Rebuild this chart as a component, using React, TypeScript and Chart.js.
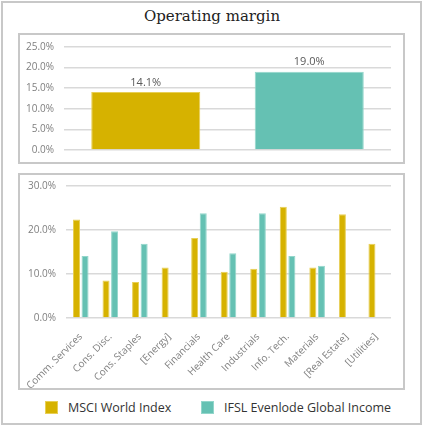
import { useEffect, useRef } from "react";
import Chart from "chart.js/auto";
import type { ChartConfiguration, Plugin, Scale } from "chart.js";

// ---------------------------------------------------------------------------
// data
// ---------------------------------------------------------------------------
const SERIES_NAMES = ["MSCI World Index", "IFSL Evenlode Global Income"];
const SERIES_COLORS = ["#D6B200", "#65C1B3"];
const SERIES_EDGES = ["#E8CF55", "#93D6CB"];

// top panel: overall operating margin
const TOTAL_MARGIN = [14.1, 19.0];
const TOP_TICKS = [0, 5, 10, 15, 20, 25];

// bottom panel: by sector
const SECTORS = [
  "Comm. Services",
  "Cons. Disc.",
  "Cons. Staples",
  "[Energy]",
  "Financials",
  "Health Care",
  "Industrials",
  "Info. Tech.",
  "Materials",
  "[Real Estate]",
  "[Utilities]",
];
const MSCI_SECTOR = [22.4, 8.5, 8.2, 11.5, 18.2, 10.5, 11.2, 25.3, 11.5, 23.6, 16.9];
const FUND_SECTOR = [14.1, 19.7, 16.9, null, 23.8, 14.7, 23.8, 14.1, 11.9, null, null];
const BOTTOM_TICKS = [0, 10, 20, 30];

const TICK_FONT = { family: "'Open Sans', sans-serif", size: 10 };
const TICK_COLOR = "#7F7F7F";
const GRID_COLOR = "#D9D9D9";

const pct = (v: number | string) => `${Number(v).toFixed(1)}%`;

// fixed y axis width, and no extra room for the end labels
const fixY = (width: number) => (scale: Scale) => {
  scale.width = width;
  scale.paddingTop = 0;
  scale.paddingBottom = 0;
};

// value labels above the top bars
const valueLabels: Plugin<"bar"> = {
  id: "valueLabels",
  afterDatasetsDraw(chart) {
    const { ctx } = chart;
    const meta = chart.getDatasetMeta(0);
    ctx.save();
    ctx.font = "11px 'Open Sans', sans-serif";
    ctx.fillStyle = "#595959";
    ctx.textAlign = "center";
    ctx.textBaseline = "bottom";
    meta.data.forEach((bar, i) => {
      ctx.fillText(pct(TOTAL_MARGIN[i]), bar.x, bar.y - 4);
    });
    ctx.restore();
  },
};

const topConfig = (): ChartConfiguration<"bar"> => ({
  type: "bar",
  data: {
    labels: SERIES_NAMES,
    datasets: [
      {
        data: TOTAL_MARGIN,
        backgroundColor: SERIES_COLORS,
        borderColor: SERIES_EDGES,
        borderWidth: 1,
        categoryPercentage: 1,
        barPercentage: 0.667,
      },
    ],
  },
  options: {
    responsive: true,
    maintainAspectRatio: false,
    animation: false,
    layout: { padding: { top: 12, right: 12, bottom: 12, left: 0 } },
    plugins: { legend: { display: false }, tooltip: { enabled: false } },
    scales: {
      x: { display: false },
      y: {
        min: 0,
        max: 25,
        afterFit: fixY(44),
        afterBuildTicks: (scale) => {
          scale.ticks = TOP_TICKS.map((value) => ({ value }));
        },
        border: { display: false },
        grid: { color: GRID_COLOR, lineWidth: 1.5, drawTicks: false },
        ticks: { color: TICK_COLOR, font: TICK_FONT, padding: 10, callback: (v) => pct(v) },
      },
    },
  },
  plugins: [valueLabels],
});

const bottomConfig = (): ChartConfiguration<"bar"> => ({
  type: "bar",
  data: {
    labels: SECTORS,
    datasets: [
      {
        label: SERIES_NAMES[0],
        data: MSCI_SECTOR,
        backgroundColor: SERIES_COLORS[0],
        borderColor: SERIES_EDGES[0],
        borderWidth: 1,
        categoryPercentage: 0.58,
        barPercentage: 0.82,
      },
      {
        label: SERIES_NAMES[1],
        data: FUND_SECTOR,
        backgroundColor: SERIES_COLORS[1],
        borderColor: SERIES_EDGES[1],
        borderWidth: 1,
        categoryPercentage: 0.58,
        barPercentage: 0.82,
      },
    ],
  },
  options: {
    responsive: true,
    maintainAspectRatio: false,
    animation: false,
    layout: { padding: { top: 11, right: 12, bottom: 0, left: 0 } },
    plugins: { legend: { display: false }, tooltip: { enabled: false } },
    scales: {
      x: {
        afterFit: (scale) => {
          scale.height = 70;
          scale.paddingLeft = 0;
          scale.paddingRight = 0;
        },
        border: { display: false },
        grid: { display: false },
        ticks: {
          color: TICK_COLOR,
          font: TICK_FONT,
          minRotation: 45,
          maxRotation: 45,
          autoSkip: false,
          padding: 5,
        },
      },
      y: {
        min: 0,
        max: 30,
        afterFit: fixY(46),
        afterBuildTicks: (scale) => {
          scale.ticks = BOTTOM_TICKS.map((value) => ({ value }));
        },
        border: { display: false },
        grid: { color: GRID_COLOR, lineWidth: 1.5, drawTicks: false },
        ticks: { color: TICK_COLOR, font: TICK_FONT, padding: 10, callback: (v) => pct(v) },
      },
    },
  },
});

// ---------------------------------------------------------------------------
// components
// ---------------------------------------------------------------------------
function ChartPanel({
  top,
  height,
  make,
}: {
  top: number;
  height: number;
  make: () => ChartConfiguration<"bar">;
}) {
  const canvasRef = useRef<HTMLCanvasElement>(null);

  useEffect(() => {
    if (!canvasRef.current) return;
    const chart = new Chart(canvasRef.current, make());
    return () => chart.destroy();
  }, [make]);

  return (
    <div
      style={{
        position: "absolute",
        left: 18,
        top,
        width: 387,
        height,
        boxSizing: "border-box",
        border: "2px solid #C8C8C8",
      }}
    >
      <div style={{ position: "relative", width: "100%", height: "100%" }}>
        <canvas ref={canvasRef} />
      </div>
    </div>
  );
}

export default function App() {
  return (
    <div
      style={{
        position: "absolute",
        left: 0,
        top: 0,
        width: 424,
        height: 426,
        background: "#FFFFFF",
        overflow: "hidden",
      }}
    >
      <div
        style={{
          position: "absolute",
          left: 1,
          top: 1,
          width: 421,
          height: 424,
          boxSizing: "border-box",
          border: "2px solid #C8C8C8",
        }}
      />
      <div
        style={{
          position: "absolute",
          left: 0,
          top: 7,
          width: 424,
          textAlign: "center",
          fontFamily: "'DejaVu Serif', serif",
          fontSize: 15,
          color: "#222222",
        }}
      >
        Operating margin
      </div>

      <ChartPanel top={33} height={131} make={topConfig} />
      <ChartPanel top={173} height={217} make={bottomConfig} />

      {SERIES_NAMES.map((name, i) => (
        <div
          key={name}
          style={{
            position: "absolute",
            left: i === 0 ? 45 : 201,
            top: 399,
            display: "flex",
            alignItems: "center",
            fontFamily: "'Open Sans', sans-serif",
            fontSize: 12.5,
            color: "#333333",
          }}
        >
          <span
            style={{
              display: "inline-block",
              width: 13,
              height: 13,
              marginRight: 10,
              background: SERIES_COLORS[i],
              boxSizing: "border-box",
              border: `1px solid ${SERIES_EDGES[i]}`,
            }}
          />
          {name}
        </div>
      ))}
    </div>
  );
}
